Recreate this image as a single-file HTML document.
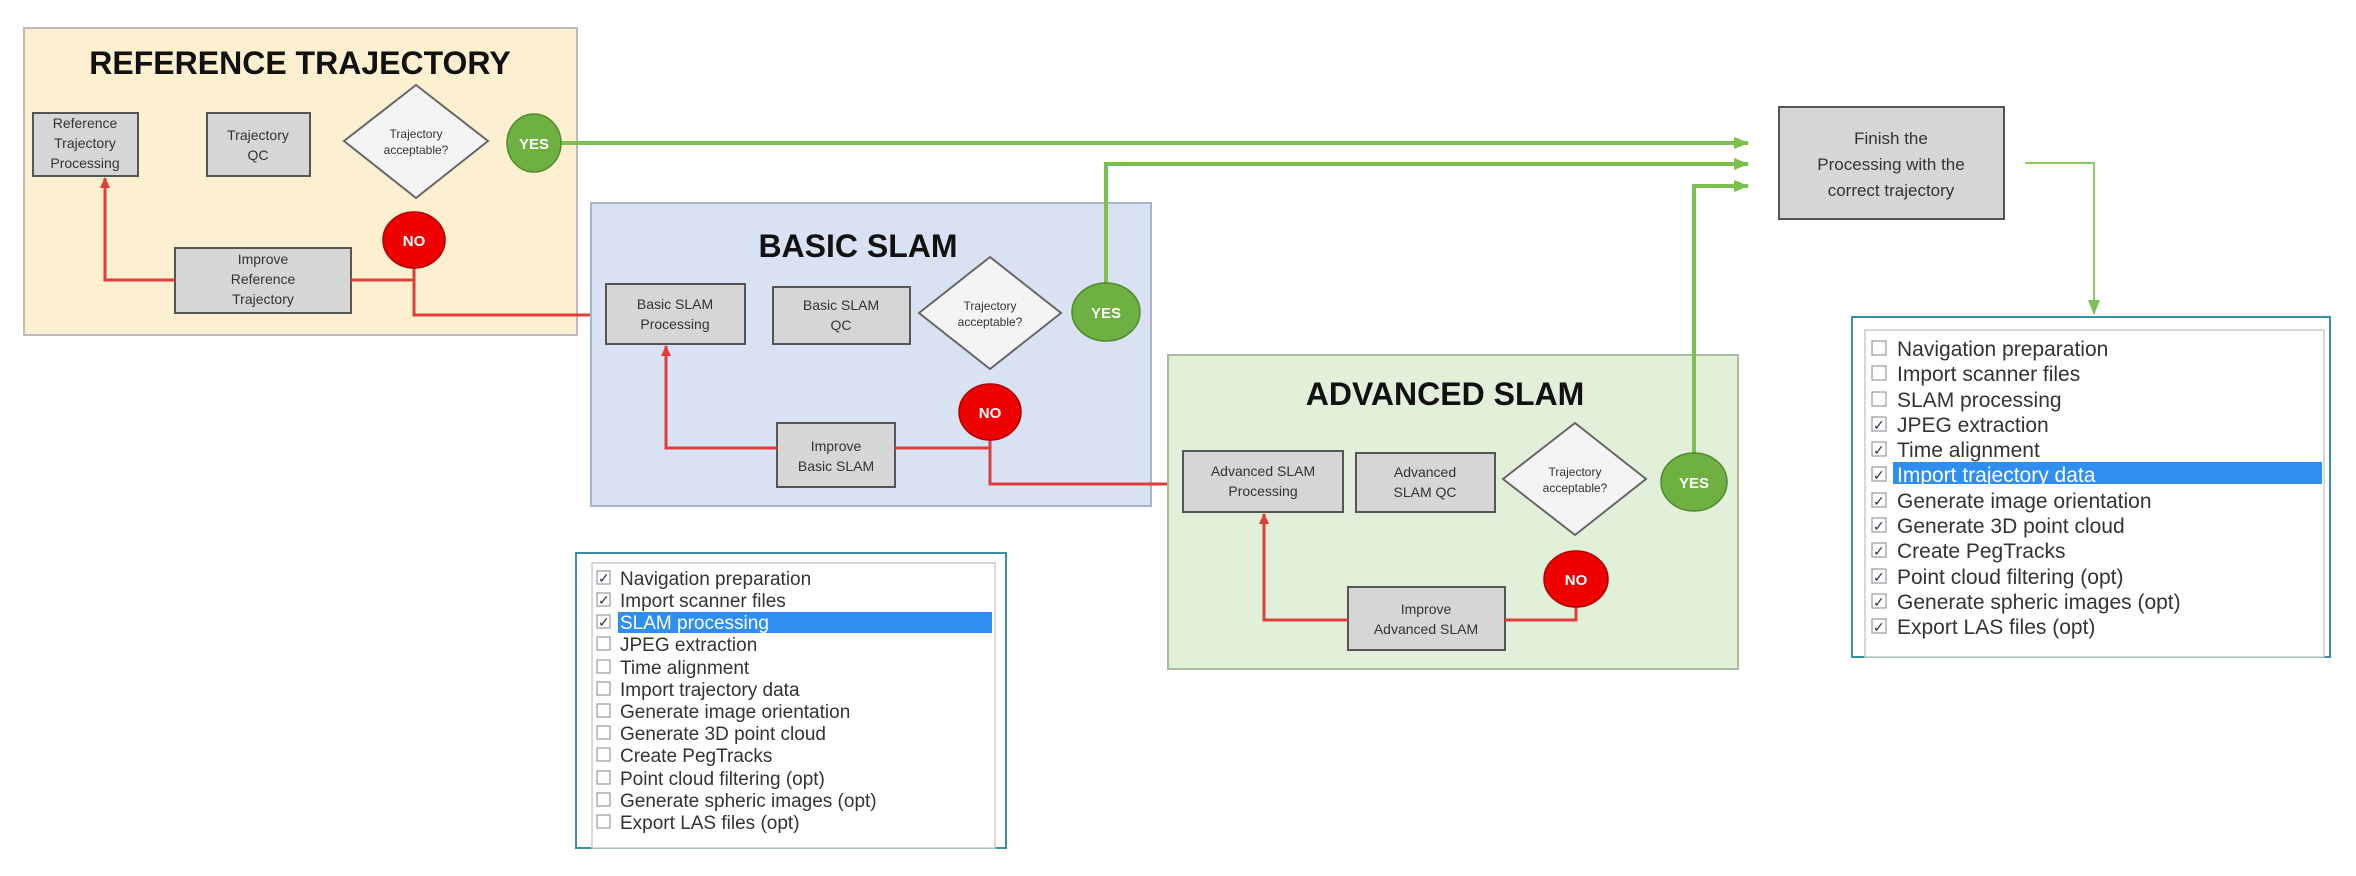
<!DOCTYPE html>
<html><head><meta charset="utf-8"><style>
html,body{margin:0;padding:0;background:#fff;}
svg{display:block;}
text{font-family:"Liberation Sans",sans-serif;}
.bx{fill:#d6d6d6;stroke:#555;stroke-width:2;}
.t{font-size:14px;fill:#333;text-anchor:middle;}
.dm{fill:#f4f4f4;stroke:#666;stroke-width:2;}
.ti{font-size:32px;font-weight:bold;fill:#111;text-anchor:middle;}
.yes{fill:#6fb043;stroke:#4f8a2c;stroke-width:1.5;}
.no{fill:#e00;stroke:#a00;stroke-width:1.5;}
.ct{font-size:15px;font-weight:bold;fill:#fff;text-anchor:middle;}
.g{stroke:#7cc04f;stroke-width:4;fill:none;}
.r{stroke:#e23b3b;stroke-width:3;fill:none;}
.l1{font-size:19px;fill:#333;}
.l2{font-size:21px;fill:#333;}
.cb{fill:#fff;stroke:#999;stroke-width:1.2;}
.ck{font-size:14px;fill:#335;}
</style></head><body>
<svg width="2356" height="876" viewBox="0 0 2356 876" xmlns="http://www.w3.org/2000/svg">
<defs>
<marker id="ag" markerWidth="8" markerHeight="8" refX="6" refY="4" orient="auto" markerUnits="userSpaceOnUse"><path d="M0,0 L8,4 L0,8z" fill="#7cc04f" transform="scale(1.6) translate(-2,-1.5)"/></marker>
<marker id="ar" markerWidth="12" markerHeight="12" refX="10" refY="6" orient="auto" markerUnits="userSpaceOnUse"><path d="M0,1 L11,6 L0,11z" fill="#e23b3b"/></marker>
<marker id="ag2" markerWidth="16" markerHeight="16" refX="14" refY="8" orient="auto" markerUnits="userSpaceOnUse"><path d="M0,2 L15,8 L0,14z" fill="#7cc04f"/></marker>
</defs>

<!-- Reference trajectory -->
<rect x="24" y="28" width="553" height="307" fill="#fdf0d0" stroke="#bbb" stroke-width="2"/>
<text class="ti" x="300" y="74">REFERENCE TRAJECTORY</text>
<rect class="bx" x="33" y="113" width="105" height="63"/>
<text class="t" x="85" y="128">Reference</text><text class="t" x="85" y="148">Trajectory</text><text class="t" x="85" y="168">Processing</text>
<rect class="bx" x="207" y="113" width="103" height="63"/>
<text class="t" x="258" y="140">Trajectory</text><text class="t" x="258" y="160">QC</text>
<polygon class="dm" points="416,85 488,141 416,198 344,141"/>
<text class="t" x="416" y="138" style="font-size:12px">Trajectory</text><text class="t" x="416" y="154" style="font-size:12px">acceptable?</text>
<rect class="bx" x="175" y="248" width="176" height="65"/>
<text class="t" x="263" y="264">Improve</text><text class="t" x="263" y="284">Reference</text><text class="t" x="263" y="304">Trajectory</text>
<path class="r" d="M175,280 L105,280 L105,178" marker-end="url(#ar)"/>
<path class="r" d="M351,280 L414,280"/>
<path class="r" d="M414,262 L414,315 L602,315" marker-end="url(#ar)"/>
<ellipse class="no" cx="414" cy="240" rx="31" ry="28"/><text class="ct" x="414" y="246">NO</text>

<!-- Basic SLAM -->
<rect x="591" y="203" width="560" height="303" fill="#d9e2f3" stroke="#a8b4cc" stroke-width="2"/>
<text class="ti" x="858" y="257">BASIC SLAM</text>
<rect class="bx" x="606" y="284" width="139" height="60"/>
<text class="t" x="675" y="309">Basic SLAM</text><text class="t" x="675" y="329">Processing</text>
<rect class="bx" x="773" y="287" width="137" height="57"/>
<text class="t" x="841" y="310">Basic SLAM</text><text class="t" x="841" y="330">QC</text>
<polygon class="dm" points="990,257 1061,313 990,369 919,313"/>
<text class="t" x="990" y="310" style="font-size:12px">Trajectory</text><text class="t" x="990" y="326" style="font-size:12px">acceptable?</text>
<rect class="bx" x="777" y="423" width="118" height="64"/>
<text class="t" x="836" y="451">Improve</text><text class="t" x="836" y="471">Basic SLAM</text>
<path class="r" d="M777,448 L666,448 L666,346" marker-end="url(#ar)"/>
<path class="r" d="M895,448 L990,448"/>
<path class="r" d="M990,430 L990,484 L1177,484" marker-end="url(#ar)"/>
<ellipse class="no" cx="990" cy="412" rx="31" ry="28"/><text class="ct" x="990" y="418">NO</text>

<!-- Advanced SLAM -->
<rect x="1168" y="355" width="570" height="314" fill="#e2efd9" stroke="#aab8a0" stroke-width="2"/>
<text class="ti" x="1445" y="405">ADVANCED SLAM</text>
<rect class="bx" x="1183" y="451" width="160" height="61"/>
<text class="t" x="1263" y="476">Advanced SLAM</text><text class="t" x="1263" y="496">Processing</text>
<rect class="bx" x="1356" y="453" width="139" height="59"/>
<text class="t" x="1425" y="477">Advanced</text><text class="t" x="1425" y="497">SLAM QC</text>
<polygon class="dm" points="1575,423 1646,479 1575,535 1503,479"/>
<text class="t" x="1575" y="476" style="font-size:12px">Trajectory</text><text class="t" x="1575" y="492" style="font-size:12px">acceptable?</text>
<rect class="bx" x="1348" y="587" width="157" height="63"/>
<text class="t" x="1426" y="614">Improve</text><text class="t" x="1426" y="634">Advanced SLAM</text>
<path class="r" d="M1348,620 L1264,620 L1264,514" marker-end="url(#ar)"/>
<path class="r" d="M1505,620 L1576,620 L1576,600"/>
<ellipse class="no" cx="1576" cy="579" rx="32" ry="28"/><text class="ct" x="1576" y="585">NO</text>

<!-- green connectors -->
<path class="g" d="M560,143 L1748,143" marker-end="url(#ag2)"/>
<path class="g" d="M1106,285 L1106,164 L1748,164" marker-end="url(#ag2)"/>
<path class="g" d="M1694,455 L1694,186 L1748,186" marker-end="url(#ag2)"/>
<path d="M2025,163 L2094,163 L2094,314" stroke="#8ccc5f" stroke-width="2" fill="none" marker-end="url(#ag2)"/>

<ellipse class="yes" cx="534" cy="143" rx="27" ry="29"/><text class="ct" x="534" y="149">YES</text>
<ellipse class="yes" cx="1106" cy="312" rx="34" ry="29"/><text class="ct" x="1106" y="318">YES</text>
<ellipse class="yes" cx="1694" cy="482" rx="33" ry="29"/><text class="ct" x="1694" y="488">YES</text>

<!-- Finish -->
<rect class="bx" x="1779" y="107" width="225" height="112"/>
<text class="t" x="1891" y="144" style="font-size:17px">Finish the</text>
<text class="t" x="1891" y="170" style="font-size:17px">Processing with the</text>
<text class="t" x="1891" y="196" style="font-size:17px">correct trajectory</text>

<!-- Left list -->
<rect x="576" y="553" width="430" height="295" fill="#fff" stroke="#3a8fa3" stroke-width="2"/>
<rect x="592" y="563" width="403" height="285" fill="#fff" stroke="#ccc" stroke-width="1.5"/>
<rect x="618" y="612" width="374" height="21" fill="#2e8ff0"/>
<g>
<rect class="cb" x="597" y="571" width="13" height="13"/><text class="ck" x="598" y="583">✓</text><text class="l1" x="620" y="585">Navigation preparation</text>
<rect class="cb" x="597" y="593" width="13" height="13"/><text class="ck" x="598" y="605">✓</text><text class="l1" x="620" y="607">Import scanner files</text>
<rect class="cb" x="597" y="615" width="13" height="13"/><text class="ck" x="598" y="627">✓</text><text class="l1" x="620" y="629" style="fill:#fff">SLAM processing</text>
<rect class="cb" x="597" y="637" width="13" height="13"/><text class="l1" x="620" y="651">JPEG extraction</text>
<rect class="cb" x="597" y="660" width="13" height="13"/><text class="l1" x="620" y="674">Time alignment</text>
<rect class="cb" x="597" y="682" width="13" height="13"/><text class="l1" x="620" y="696">Import trajectory data</text>
<rect class="cb" x="597" y="704" width="13" height="13"/><text class="l1" x="620" y="718">Generate image orientation</text>
<rect class="cb" x="597" y="726" width="13" height="13"/><text class="l1" x="620" y="740">Generate 3D point cloud</text>
<rect class="cb" x="597" y="748" width="13" height="13"/><text class="l1" x="620" y="762">Create PegTracks</text>
<rect class="cb" x="597" y="771" width="13" height="13"/><text class="l1" x="620" y="785">Point cloud filtering (opt)</text>
<rect class="cb" x="597" y="793" width="13" height="13"/><text class="l1" x="620" y="807">Generate spheric images (opt)</text>
<rect class="cb" x="597" y="815" width="13" height="13"/><text class="l1" x="620" y="829">Export LAS files (opt)</text>
</g>

<!-- Right list -->
<rect x="1852" y="317" width="478" height="340" fill="#fff" stroke="#3a8fa3" stroke-width="2"/>
<rect x="1865" y="330" width="459" height="327" fill="#fff" stroke="#ccc" stroke-width="1.5"/>
<rect x="1893" y="462" width="429" height="22" fill="#2e8ff0"/>
<g>
<rect class="cb" x="1872" y="341" width="14" height="14"/><text class="l2" x="1897" y="356">Navigation preparation</text>
<rect class="cb" x="1872" y="366" width="14" height="14"/><text class="l2" x="1897" y="381">Import scanner files</text>
<rect class="cb" x="1872" y="392" width="14" height="14"/><text class="l2" x="1897" y="407">SLAM processing</text>
<rect class="cb" x="1872" y="417" width="14" height="14"/><text class="ck" x="1873" y="430">✓</text><text class="l2" x="1897" y="432">JPEG extraction</text>
<rect class="cb" x="1872" y="442" width="14" height="14"/><text class="ck" x="1873" y="455">✓</text><text class="l2" x="1897" y="457">Time alignment</text>
<rect class="cb" x="1872" y="467" width="14" height="14"/><text class="ck" x="1873" y="480">✓</text><text class="l2" x="1897" y="482" style="fill:#fff">Import trajectory data</text>
<rect class="cb" x="1872" y="493" width="14" height="14"/><text class="ck" x="1873" y="506">✓</text><text class="l2" x="1897" y="508">Generate image orientation</text>
<rect class="cb" x="1872" y="518" width="14" height="14"/><text class="ck" x="1873" y="531">✓</text><text class="l2" x="1897" y="533">Generate 3D point cloud</text>
<rect class="cb" x="1872" y="543" width="14" height="14"/><text class="ck" x="1873" y="556">✓</text><text class="l2" x="1897" y="558">Create PegTracks</text>
<rect class="cb" x="1872" y="569" width="14" height="14"/><text class="ck" x="1873" y="582">✓</text><text class="l2" x="1897" y="584">Point cloud filtering (opt)</text>
<rect class="cb" x="1872" y="594" width="14" height="14"/><text class="ck" x="1873" y="607">✓</text><text class="l2" x="1897" y="609">Generate spheric images (opt)</text>
<rect class="cb" x="1872" y="619" width="14" height="14"/><text class="ck" x="1873" y="632">✓</text><text class="l2" x="1897" y="634">Export LAS files (opt)</text>
</g>
</svg>
</body></html>
